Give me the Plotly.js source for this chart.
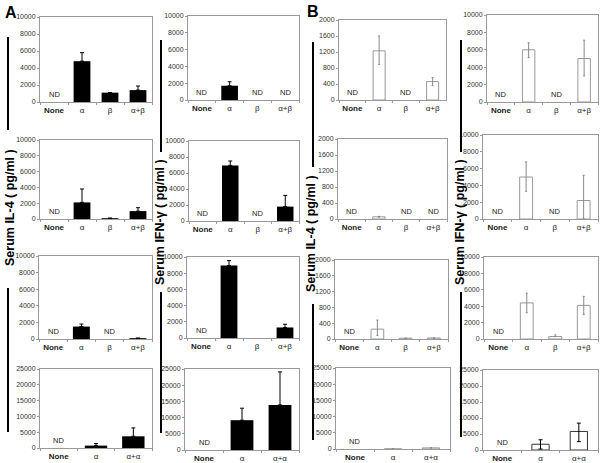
<!DOCTYPE html>
<html><head><meta charset="utf-8">
<script src="https://cdn.plot.ly/plotly-3.0.1.min.js"></script>
<style>html,body{margin:0;padding:0;background:#fff}</style>
</head><body><div id="chart" style="width:601px;height:463px"></div>
<script>
// ---------- categories ----------
const catsAB = ['None', 'α', 'β', 'α+β'];
const catsAA = ['None', 'α', 'α+α'];

// ---------- Panel A : Serum IL-4 (pg/ml) ----------
const aIl4Row1 = [null, 4800, 1100, 1400];  const aIl4Row1Err = [0, 1000, 0, 480];  const aIl4Row1ND = ['None'];
const aIl4Row2 = [null, 2100, 100, 1000];   const aIl4Row2Err = [0, 1700, 0, 430];  const aIl4Row2ND = ['None'];
const aIl4Row3 = [null, 1500, null, 100];   const aIl4Row3Err = [0, 300, 0, 0];     const aIl4Row3ND = ['None', 'β'];
const aIl4Row4 = [null, 750, 3700];         const aIl4Row4Err = [0, 650, 2650];     const aIl4Row4ND = ['None'];

// ---------- Panel A : Serum IFN-γ (pg/ml) ----------
const aIfnRow1 = [null, 1700, null, null];  const aIfnRow1Err = [0, 470, 0, 0];     const aIfnRow1ND = ['None', 'β', 'α+β'];
const aIfnRow2 = [null, 6950, null, 1800];  const aIfnRow2Err = [0, 550, 0, 1400];  const aIfnRow2ND = ['None', 'β'];
const aIfnRow3 = [null, 8950, null, 1300];  const aIfnRow3Err = [0, 600, 0, 400];   const aIfnRow3ND = ['None'];
const aIfnRow4 = [null, 9200, 13900];       const aIfnRow4Err = [0, 3700, 10200];   const aIfnRow4ND = ['None'];

// ---------- Panel B : Serum IL-4 (pg/ml) ----------
const bIl4Row1 = [null, 1230, null, 460];   const bIl4Row1ErrUp = [0, 370, 0, 100]; const bIl4Row1ErrDn = [0, 340, 0, 100]; const bIl4Row1ND = ['None', 'β'];
const bIl4Row2 = [null, 55, null, null];    const bIl4Row2ErrUp = [0, 10, 0, 0];    const bIl4Row2ErrDn = [0, 10, 0, 0];    const bIl4Row2ND = ['None', 'β', 'α+β'];
const bIl4Row3 = [null, 250, 20, 25];       const bIl4Row3ErrUp = [0, 230, 0, 0];   const bIl4Row3ErrDn = [0, 160, 0, 0];   const bIl4Row3ND = ['None'];
const bIl4Row4 = [null, 50, 350];           const bIl4Row4ErrUp = [0, 0, 0];        const bIl4Row4ErrDn = [0, 0, 0];        const bIl4Row4ND = ['None'];

// ---------- Panel B : Serum IFN-γ (pg/ml) ----------
const bIfnRow1 = [null, 6000, null, 5000];  const bIfnRow1ErrUp = [0, 800, 0, 2100];  const bIfnRow1ErrDn = [0, 900, 0, 2000];  const bIfnRow1ND = ['None', 'β'];
const bIfnRow2 = [null, 5000, null, 2200];  const bIfnRow2ErrUp = [0, 1800, 0, 3000]; const bIfnRow2ErrDn = [0, 1700, 0, 2200]; const bIfnRow2ND = ['None', 'β'];
const bIfnRow3 = [null, 4400, 300, 4100];   const bIfnRow3ErrUp = [0, 1200, 200, 1100]; const bIfnRow3ErrDn = [0, 1200, 0, 1100]; const bIfnRow3ND = ['None'];
const bIfnRow4 = [null, 1800, 5800];        const bIfnRow4ErrUp = [0, 1400, 2600];    const bIfnRow4ErrDn = [0, 1500, 3200];    const bIfnRow4ND = ['None'];

// ---------- geometry (pixels: left, right, top, bottom) ----------
const W = 601, H = 463;
const geom = [
  [40,152,17,102],[188,299,16,100],[339,446,20,100],[487,598,15,102],
  [40,152,140,219],[189,299,141,221],[338,447,139,219],[483,598,135,219],
  [39,152,256,339],[187,299,257,338],[335,448,260,339],[484,598,257,339],
  [40,152,369,448],[185,299,369,450],[336,450,368,449],[483,598,370,450]
];

const panels = [
  {cats: catsAB, y: aIl4Row1, up: aIl4Row1Err, nd: aIl4Row1ND, kind: 'A', max: 10000, dt: 2000},
  {cats: catsAB, y: aIfnRow1, up: aIfnRow1Err, nd: aIfnRow1ND, kind: 'A', max: 10000, dt: 2000},
  {cats: catsAB, y: bIl4Row1, up: bIl4Row1ErrUp, dn: bIl4Row1ErrDn, nd: bIl4Row1ND, kind: 'B', max: 2000, dt: 400},
  {cats: catsAB, y: bIfnRow1, up: bIfnRow1ErrUp, dn: bIfnRow1ErrDn, nd: bIfnRow1ND, kind: 'B', max: 10000, dt: 2000},
  {cats: catsAB, y: aIl4Row2, up: aIl4Row2Err, nd: aIl4Row2ND, kind: 'A', max: 10000, dt: 2000},
  {cats: catsAB, y: aIfnRow2, up: aIfnRow2Err, nd: aIfnRow2ND, kind: 'A', max: 10000, dt: 2000},
  {cats: catsAB, y: bIl4Row2, up: bIl4Row2ErrUp, dn: bIl4Row2ErrDn, nd: bIl4Row2ND, kind: 'B', max: 2000, dt: 400},
  {cats: catsAB, y: bIfnRow2, up: bIfnRow2ErrUp, dn: bIfnRow2ErrDn, nd: bIfnRow2ND, kind: 'B', max: 10000, dt: 2000},
  {cats: catsAB, y: aIl4Row3, up: aIl4Row3Err, nd: aIl4Row3ND, kind: 'A', max: 10000, dt: 2000},
  {cats: catsAB, y: aIfnRow3, up: aIfnRow3Err, nd: aIfnRow3ND, kind: 'A', max: 10000, dt: 2000},
  {cats: catsAB, y: bIl4Row3, up: bIl4Row3ErrUp, dn: bIl4Row3ErrDn, nd: bIl4Row3ND, kind: 'B', max: 2000, dt: 400},
  {cats: catsAB, y: bIfnRow3, up: bIfnRow3ErrUp, dn: bIfnRow3ErrDn, nd: bIfnRow3ND, kind: 'B', max: 10000, dt: 2000},
  {cats: catsAA, y: aIl4Row4, up: aIl4Row4Err, nd: aIl4Row4ND, kind: 'A', max: 25000, dt: 5000},
  {cats: catsAA, y: aIfnRow4, up: aIfnRow4Err, nd: aIfnRow4ND, kind: 'A', max: 25000, dt: 5000},
  {cats: catsAA, y: bIl4Row4, up: bIl4Row4ErrUp, dn: bIl4Row4ErrDn, nd: bIl4Row4ND, kind: 'B', max: 25000, dt: 5000},
  {cats: catsAA, y: bIfnRow4, up: bIfnRow4ErrUp, dn: bIfnRow4ErrDn, nd: bIfnRow4ND, kind: 'B4', max: 25000, dt: 5000}
];

const FONT = 'Arial, "Liberation Sans", sans-serif';
const traces = [];
const layout = {
  width: W, height: H, margin: {l: 0, r: 0, t: 0, b: 0},
  paper_bgcolor: '#fff', plot_bgcolor: '#fff', showlegend: false,
  font: {family: FONT, color: '#222'},
  annotations: [], shapes: []
};

panels.forEach((p, i) => {
  const n = i + 1, sx = n === 1 ? '' : String(n);
  const [l, r, t, b] = geom[i];
  const isA = p.kind === 'A';
  const barColor = isA ? '#000' : '#fff';
  const lineColor = p.kind === 'B4' ? '#333' : (isA ? '#000' : '#999');
  const errColor = isA || p.kind === 'B4' ? '#000' : '#888';
  traces.push({
    type: 'bar', x: p.cats, y: p.y, xaxis: 'x' + sx, yaxis: 'y' + sx,
    width: isA ? 0.6 : 0.45,
    marker: {color: barColor, line: {color: lineColor, width: isA ? 0 : 1}},
    error_y: {type: 'data', symmetric: false, array: p.up, arrayminus: p.dn || p.up.map(() => 0),
              color: errColor, thickness: 1, width: isA || p.kind === 'B4' ? 2 : 1},
    hoverinfo: 'skip'
  });
  layout['xaxis' + sx] = {
    domain: [l / W, r / W], anchor: 'y' + sx, type: 'category',
    categoryorder: 'array', categoryarray: p.cats, range: [-0.5, p.cats.length - 0.5],
    tickvals: p.cats, ticktext: p.cats.map(c => c === 'None' ? '<b>None</b>' : c),
    tickangle: 0, tickfont: {size: 8, color: '#222', family: FONT},
    showline: true, linecolor: '#999', linewidth: 1, mirror: true,
    ticks: 'outside', tickson: 'boundaries', ticklen: 2, tickcolor: '#999',
    showgrid: false, zeroline: false, fixedrange: true
  };
  layout['yaxis' + sx] = {
    domain: [1 - b / H, 1 - t / H], anchor: 'x' + sx,
    range: [0, p.max], tick0: 0, dtick: p.dt, tickformat: 'd',
    tickfont: {size: 7, color: '#333', family: FONT},
    showline: true, linecolor: '#999', linewidth: 1, mirror: true,
    ticks: 'outside', ticklen: 2, tickcolor: '#999',
    showgrid: false, zeroline: false, fixedrange: true
  };
  p.nd.forEach(c => layout.annotations.push({
    xref: 'x' + sx, yref: 'y' + sx, x: c, y: 0, yanchor: 'bottom', yshift: 1,
    text: 'ND', showarrow: false, font: {size: 7.5, color: '#222', family: FONT}
  }));
});

// panel letters
layout.annotations.push(
  {xref: 'paper', yref: 'paper', x: 3 / W, y: 1 - 2 / H, xanchor: 'left', yanchor: 'top',
   text: '<b>A</b>', showarrow: false, font: {size: 16, color: '#000', family: FONT}},
  {xref: 'paper', yref: 'paper', x: 305 / W, y: 1 - 1 / H, xanchor: 'left', yanchor: 'top',
   text: '<b>B</b>', showarrow: false, font: {size: 16, color: '#000', family: FONT}}
);

// y-axis titles with bars
const yTitles = [
  {text: 'Serum IL-4 ( pg/ml )', x: 10, yc: 208, l1: [37, 130], l2: [288, 432], lx: 8},
  {text: 'Serum IFN-γ ( pg/ml )', x: 160, yc: 222, l1: [40, 152], l2: [292, 433], lx: 161},
  {text: 'Serum IL-4 ( pg/ml )', x: 311, yc: 234, l1: [42, 167], l2: [304, 440], lx: 313},
  {text: 'Serum IFN-γ ( pg/ml )', x: 460, yc: 222, l1: [40, 152], l2: [292, 437], lx: 461}
];
yTitles.forEach(t => {
  layout.annotations.push({xref: 'paper', yref: 'paper', x: t.x / W, y: 1 - t.yc / H,
    xanchor: 'center', yanchor: 'middle', textangle: -90, text: '<b>' + t.text + '</b>',
    showarrow: false, font: {size: 12.5, color: '#000', family: FONT}});
  [t.l1, t.l2].forEach(s => layout.shapes.push({type: 'line', xref: 'paper', yref: 'paper',
    x0: t.lx / W, x1: t.lx / W, y0: 1 - s[0] / H, y1: 1 - s[1] / H, line: {color: '#000', width: 2}}));
});

Plotly.newPlot('chart', traces, layout, {displayModeBar: false, staticPlot: true});
</script></body></html>
